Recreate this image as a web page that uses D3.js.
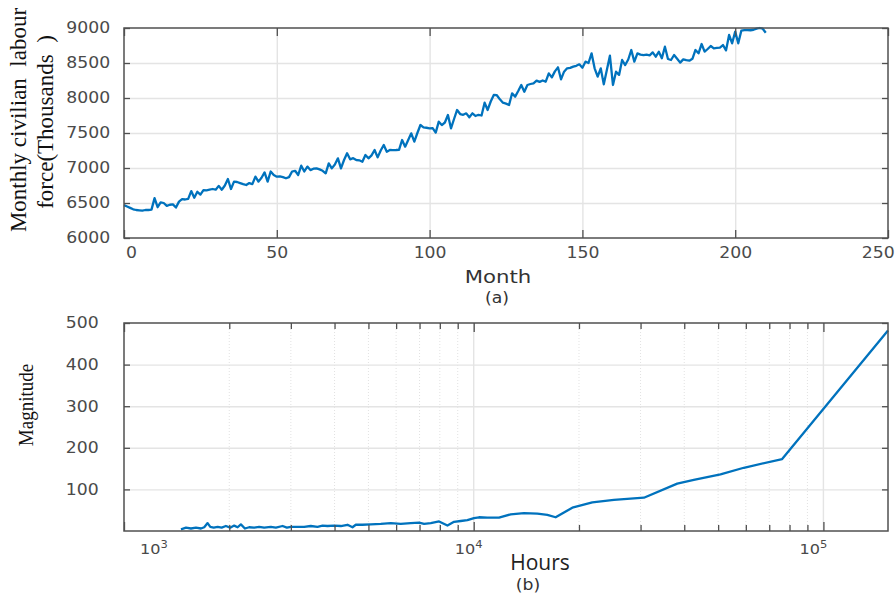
<!DOCTYPE html>
<html>
<head>
<meta charset="utf-8">
<script src="https://cdn.jsdelivr.net/npm/d3@7"></script>
<style>
  body { margin: 0; background: #fff; }
  text { font-family: "DejaVu Sans", sans-serif; }
</style>
</head>
<body>
<svg id="chart" width="896" height="599"></svg>
<script>
// DATA (a): monthly civilian labour force, month 0..210
const labour = [
  6470,6450,6430,6410,6400,6395,6390,6400,6400,6405,
  6570,6440,6510,6500,6460,6475,6480,6435,6520,6555,
  6550,6560,6670,6575,6660,6620,6685,6680,6690,6700,
  6690,6745,6690,6750,6843,6700,6805,6800,6785,6770,
  6757,6785,6770,6876,6805,6860,6937,6805,6950,6900,
  6876,6880,6870,6853,6870,6950,6960,6900,7033,6950,
  7020,6970,6990,6995,6980,6960,6924,7067,6995,7050,
  7138,6995,7114,7210,7124,7140,7114,7110,7090,7186,
  7138,7180,7257,7152,7250,7329,7233,7257,7255,7257,
  7260,7400,7305,7400,7495,7376,7500,7614,7581,7575,
  7567,7570,7505,7662,7614,7650,7757,7567,7700,7829,
  7771,7760,7781,7724,7781,7743,7760,7750,7933,7829,
  7950,8043,8040,7981,7933,7920,7900,8067,8019,8100,
  8186,8090,8186,8200,8210,8248,8230,8250,8233,8352,
  8295,8380,8438,8267,8376,8424,8430,8448,8460,8481,
  8433,8519,8500,8638,8424,8305,8424,8195,8400,8605,
  8186,8376,8330,8543,8471,8550,8686,8519,8638,8620,
  8614,8620,8610,8652,8590,8660,8567,8733,8557,8543,
  8614,8560,8505,8552,8540,8533,8560,8686,8638,8771,
  8662,8700,8743,8710,8715,8720,8757,8680,8900,8781,
  8948,8781,8962,8970,8970,8968,8975,8990,9000,8990,
  8933
];
const monthTicks = [0, 50, 100, 150, 200, 250];
const labourTicks = [6000, 6500, 7000, 7500, 8000, 8500, 9000];

// DATA (b): magnitude against hours (log axis)
const hours = [
  1455,1504,1554,1606,1660,1696,1734,1765,1805,1853,
  1902,1956,2012,2066,2113,2159,2217,2280,2356,2435,
  2517,2630,2718,2841,2922,3000,3136,3274,3421,3576,
  3696,3819,3990,4169,4356,4502,4601,4808,5078,5425,
  5793,6185,6607,6980,7211,7536,7961,8413,8785,9181,
  9594,10020,10354,10942,11811,12755,13924,15205,16238,17151,
  19143,21834,25171,27484,30665,38194,42600,50780,59200,76210,
  153000
];
const magnitude = [
  4,8,6,8,6,9,19,10,8,10,
  8,12,8,13,9,16,6,9,8,10,
  8,10,8,12,8,10,10,10,12,10,
  13,12,13,12,15,9,15,15,16,17,
  19,17,19,20,17,19,23,13,22,24,
  26,31,33,32,32,40,43,42,39,33,
  56,69,75,77,80,114,123,136,152,173,
  482
];
const magTicks = [100, 200, 300, 400, 500];
const hourMajor = [1e3, 1e4, 1e5];
const hourMinor = [2e3,3e3,4e3,5e3,6e3,7e3,8e3,9e3,2e4,3e4,4e4,5e4,6e4,7e4,8e4,9e4];

// STYLE
const blue = '#0072bd';
const frameCol = '#505050';
const tickCol = '#4a4a4a';
const gridCol = '#e4e4e4';
const stretch = 1.15;   // picture text is wider than tall

const svg = d3.select('#chart');

function styleAxis(g) {
  g.select('.domain').remove();
  g.selectAll('.tick line').attr('stroke', frameCol).attr('stroke-width', 1.3);
  g.selectAll('.tick text')
    .attr('fill', tickCol)
    .attr('font-size', 15)
    .attr('transform', `scale(${stretch},1)`);
}

// ---------- CHART (a) ----------
const x1 = d3.scaleLinear().domain([0, 250]).range([124, 888]);
const y1 = d3.scaleLinear().domain([6000, 9000]).range([238, 28]);

// grid
svg.append('g')
  .attr('transform', 'translate(0,238)')
  .call(d3.axisBottom(x1).tickValues([50, 100, 150, 200]).tickSize(-210).tickFormat(''))
  .call(g => g.select('.domain').remove())
  .selectAll('line').attr('stroke', gridCol).attr('stroke-width', 1.4);
svg.append('g')
  .attr('transform', 'translate(124,0)')
  .call(d3.axisLeft(y1).tickValues([6500, 7000, 7500, 8000, 8500]).tickSize(-764).tickFormat(''))
  .call(g => g.select('.domain').remove())
  .selectAll('line').attr('stroke', gridCol).attr('stroke-width', 1.4);

// line
svg.append('path')
  .datum(labour)
  .attr('fill', 'none')
  .attr('stroke', blue)
  .attr('stroke-width', 2.3)
  .attr('stroke-linejoin', 'round')
  .attr('d', d3.line().x((d, i) => x1(i)).y(d => y1(d)));

// axes
const xa1 = svg.append('g').attr('transform', 'translate(0,238)')
  .call(d3.axisBottom(x1).tickValues(monthTicks).tickSize(-8).tickPadding(9).tickFormat(d3.format('d')));
styleAxis(xa1);
xa1.selectAll('.tick text').attr('dx', d => d === 0 ? 6 : d === 250 ? -9 : 0);
svg.append('g').attr('transform', 'translate(0,28)')
  .call(d3.axisTop(x1).tickValues(monthTicks).tickSize(-8).tickFormat(''))
  .call(styleAxis);
svg.append('g').attr('transform', 'translate(124,0)')
  .call(d3.axisLeft(y1).tickValues(labourTicks).tickSize(-6).tickPadding(12).tickFormat(d3.format('d')))
  .call(styleAxis);
svg.append('g').attr('transform', 'translate(888,0)')
  .call(d3.axisRight(y1).tickValues(labourTicks).tickSize(-6).tickFormat(''))
  .call(styleAxis);

svg.append('rect')
  .attr('x', 124).attr('y', 28).attr('width', 764).attr('height', 210)
  .attr('fill', 'none').attr('stroke', frameCol).attr('stroke-width', 1.5);

// labels
svg.append('text')
  .attr('transform', 'translate(26,120) rotate(-90)')
  .attr('text-anchor', 'middle')
  .style('font-family', '"Liberation Serif", serif')
  .style('white-space', 'pre')
  .attr('font-size', 23).attr('fill', '#111')
  .text('Monthly civilian  labour');
svg.append('text')
  .attr('transform', 'translate(53,122) rotate(-90)')
  .attr('text-anchor', 'middle')
  .style('font-family', '"Liberation Serif", serif')
  .style('white-space', 'pre')
  .attr('font-size', 23).attr('fill', '#111')
  .text('force(Thousands  )');
svg.append('text')
  .attr('transform', `translate(498,283) scale(1.25,1)`)
  .attr('text-anchor', 'middle')
  .attr('font-size', 17).attr('fill', '#333')
  .text('Month');
svg.append('text')
  .attr('transform', `translate(497,303) scale(${stretch},1)`)
  .attr('text-anchor', 'middle')
  .attr('font-size', 15).attr('fill', '#333')
  .text('(a)');

// ---------- CHART (b) ----------
const x2 = d3.scaleLog().domain([1000, 153000]).range([124, 888]);
const y2 = d3.scaleLinear().domain([0, 500]).range([531, 323]);

// grid
svg.append('g').selectAll('line').data(hourMinor).join('line')
  .attr('x1', d => x2(d)).attr('x2', d => x2(d))
  .attr('y1', 323).attr('y2', 531)
  .attr('stroke', '#e2e2e2').attr('stroke-dasharray', '1,2');
svg.append('g').selectAll('line').data([1e4, 1e5]).join('line')
  .attr('x1', d => x2(d)).attr('x2', d => x2(d))
  .attr('y1', 323).attr('y2', 531)
  .attr('stroke', gridCol).attr('stroke-width', 1.4);
svg.append('g')
  .attr('transform', 'translate(124,0)')
  .call(d3.axisLeft(y2).tickValues([100, 200, 300, 400]).tickSize(-764).tickFormat(''))
  .call(g => g.select('.domain').remove())
  .selectAll('line').attr('stroke', gridCol).attr('stroke-width', 1.4);

// line
svg.append('path')
  .datum(hours.map((h, i) => [h, magnitude[i]]))
  .attr('fill', 'none')
  .attr('stroke', blue)
  .attr('stroke-width', 2.3)
  .attr('stroke-linejoin', 'round')
  .attr('d', d3.line().x(d => x2(d[0])).y(d => y2(d[1])));

// ticks
[[531, d3.axisBottom], [323, d3.axisTop]].forEach(([yy, ax]) => {
  svg.append('g').attr('transform', `translate(0,${yy})`)
    .call(ax(x2).tickValues(hourMinor).tickSize(-6).tickFormat(''))
    .call(styleAxis);
  svg.append('g').attr('transform', `translate(0,${yy})`)
    .call(ax(x2).tickValues(hourMajor).tickSize(-9).tickFormat(''))
    .call(styleAxis);
});
svg.append('g').attr('transform', 'translate(124,0)')
  .call(d3.axisLeft(y2).tickValues(magTicks).tickSize(-6).tickPadding(22))
  .call(styleAxis);
svg.append('g').attr('transform', 'translate(888,0)')
  .call(d3.axisRight(y2).tickValues(magTicks).tickSize(-6).tickFormat(''))
  .call(styleAxis);

svg.append('rect')
  .attr('x', 124).attr('y', 323).attr('width', 764).attr('height', 208)
  .attr('fill', 'none').attr('stroke', frameCol).attr('stroke-width', 1.5);

// log tick labels 10^n
const labShift = {1000: 30, 10000: -5, 100000: -10};
const lab = svg.append('g').selectAll('text').data(hourMajor).join('text')
  .attr('transform', d => `translate(${x2(d) + labShift[d]},554) scale(${stretch},1)`)
  .attr('text-anchor', 'middle')
  .attr('font-size', 14).attr('fill', tickCol);
lab.append('tspan').text('10');
lab.append('tspan').attr('dy', -6).attr('font-size', 10).text(d => Math.round(Math.log10(d)));

// labels
svg.append('text')
  .attr('transform', `translate(33,405) scale(${stretch},1) rotate(-90)`)
  .attr('text-anchor', 'middle')
  .style('font-family', '"Liberation Serif", serif')
  .attr('font-size', 19).attr('fill', '#111')
  .text('Magnitude');
svg.append('text')
  .attr('x', 540).attr('y', 570)
  .attr('text-anchor', 'middle')
  .style('font-family', '"Open Sans", sans-serif')
  .attr('font-size', 21).attr('fill', '#222')
  .text('Hours');
svg.append('text')
  .attr('transform', `translate(528,590) scale(${stretch},1)`)
  .attr('text-anchor', 'middle')
  .attr('font-size', 15).attr('fill', '#333')
  .text('(b)');
</script>
</body>
</html>
